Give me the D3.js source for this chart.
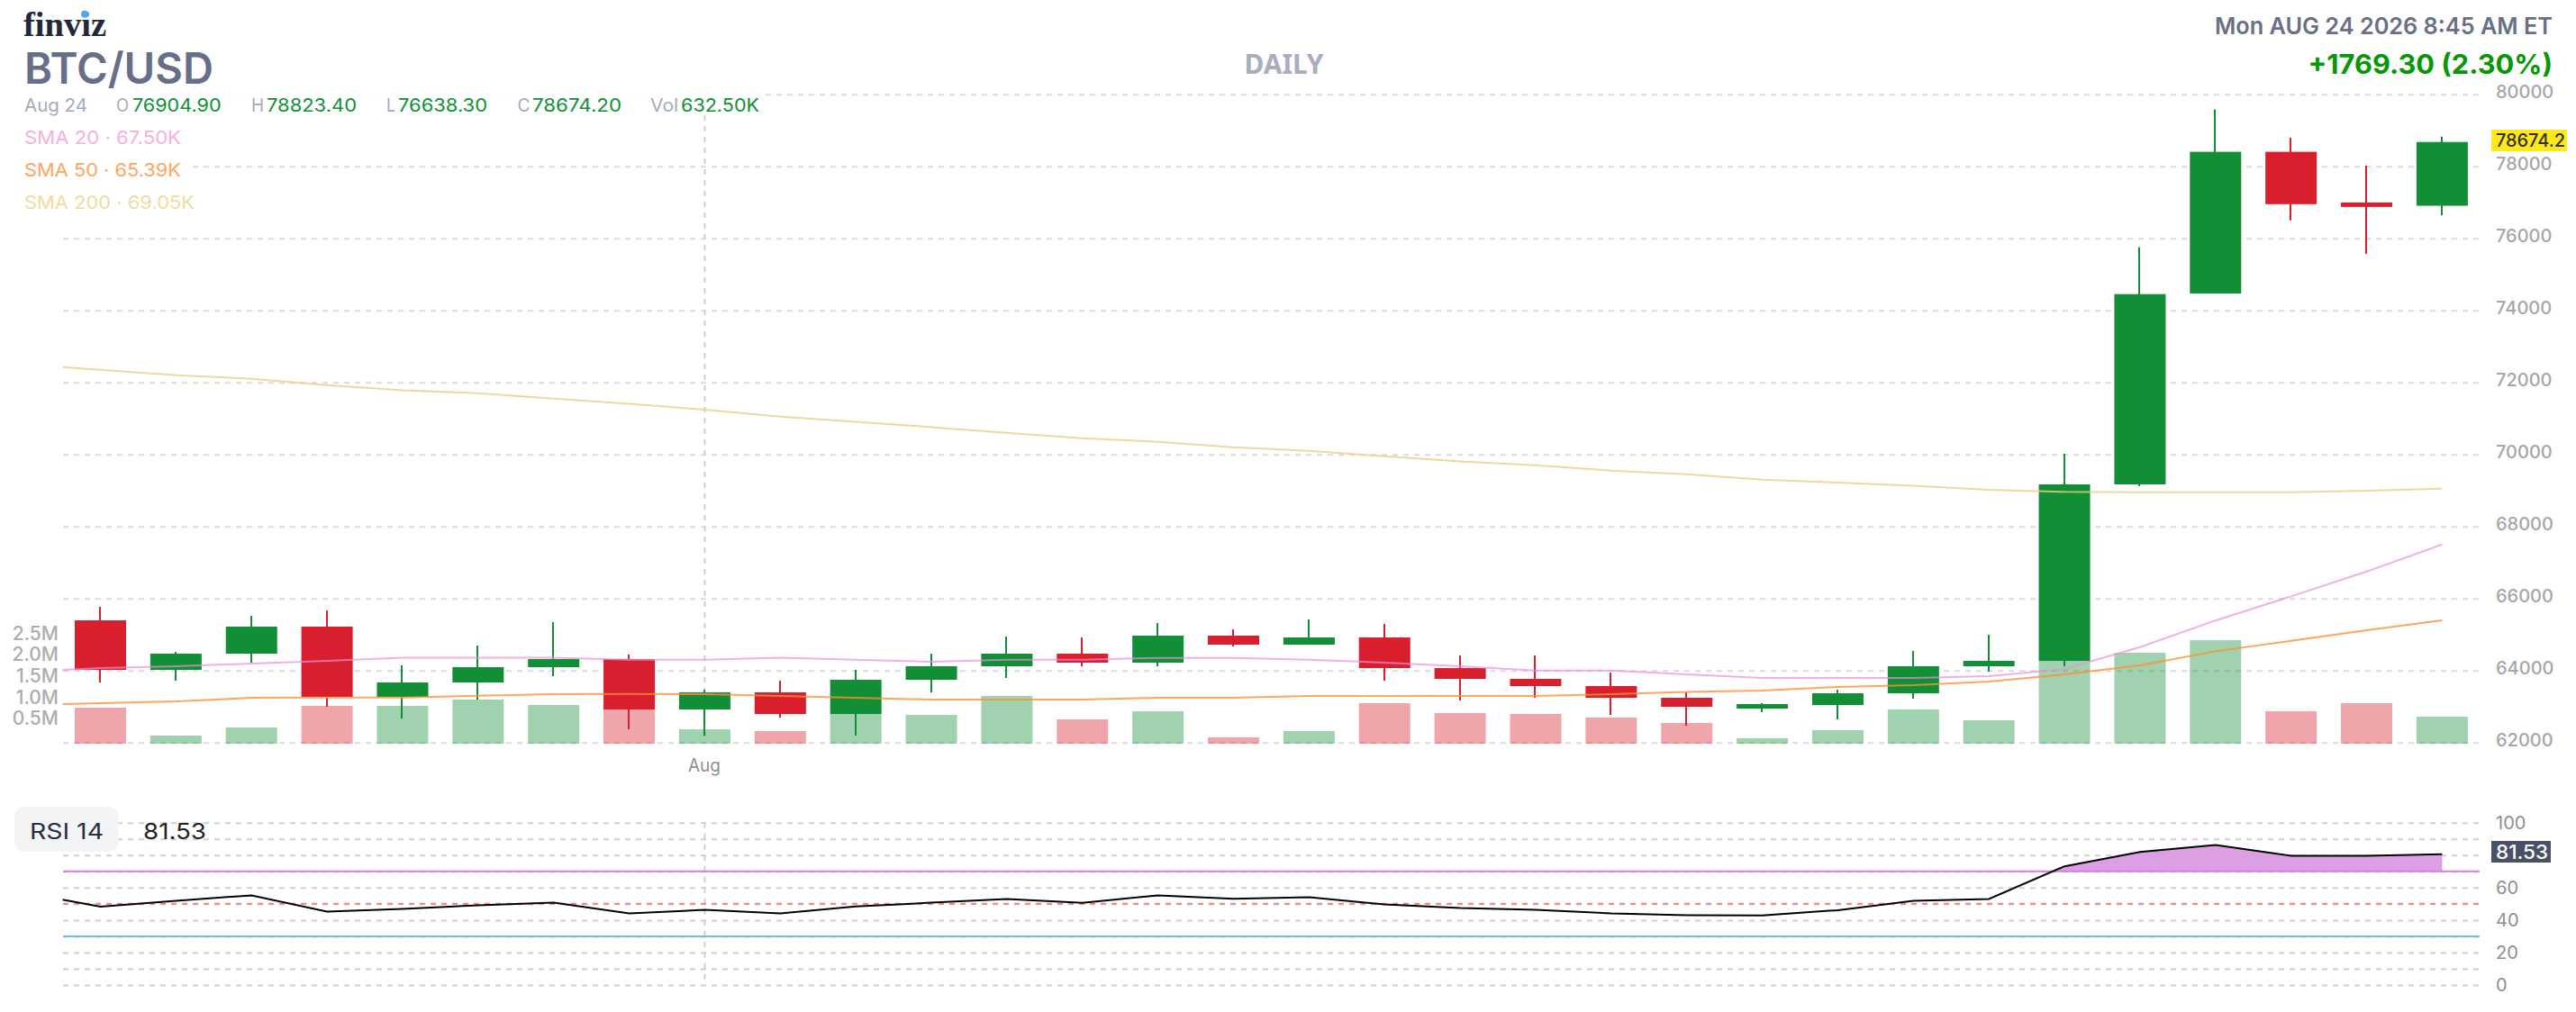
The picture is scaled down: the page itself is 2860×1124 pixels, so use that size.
<!DOCTYPE html>
<html><head><meta charset="utf-8">
<style>html,body{margin:0;padding:0;background:#fff}svg{display:block}text{font-family:Inter,"Noto Sans",sans-serif}</style>
<script src="https://cdn.jsdelivr.net/npm/d3@7/dist/d3.min.js"></script>
</head><body><svg id="c" width="2860" height="1124"></svg>
<script>
// ---- data ----
const opens =[65392,64017,64467,65217,63267,63667,64092,64317,62917,63392,62792,63742,64117,64467,64217,64967,64717,64917,64067,63767,63567,63242,62942,63042,63367,64117,64267,69168,74469,78402,76995,76904.9];
const closes=[64017,64467,65217,63267,63667,64092,64317,62917,63392,62792,63742,64117,64467,64217,64967,64717,64917,64067,63767,63567,63242,62992,63067,63367,64117,64267,69168,74450,78402,76948,76871,78674.2];
const highs =[65767,64517,65517,65667,64142,64692,65342,64442,63467,63717,64017,64467,64942,64917,65317,65142,65417,65292,64417,64417,63942,63392,63092,63467,64542,64992,70020,75751,79579,78794,78019,78823.4];
const lows  =[63667,63717,64217,62992,62667,63192,63842,62367,62192,62692,62192,63392,63792,64117,64117,64667,64717,63717,63167,63242,62767,62467,62842,62642,63217,63967,64117,69120,74469,76498,75570,76638.3];
const volumes=[0.844,0.19,0.38,0.886,0.886,1.034,0.907,0.84,0.337,0.295,0.696,0.675,1.118,0.569,0.759,0.148,0.295,0.949,0.717,0.696,0.612,0.485,0.127,0.316,0.80,0.548,1.94,2.13,2.425,0.759,0.949,0.6325];
const sma20 =[64067,64117,64192,64267,64358,64358,64358,64300,64300,64358,64300,64242,64300,64300,64350,64350,64300,64217,64117,64000,64000,63892,63792,63792,63792,63842,64042,64650,65388,66058,66747,67500];
const sma50 =[63092,63142,63242,63250,63250,63300,63342,63350,63342,63292,63242,63192,63192,63192,63242,63242,63292,63292,63292,63292,63342,63408,63442,63542,63592,63692,63892,64142,64533,64825,65117,65390];
const sma200=[72350,72200,72100,71925,71783,71700,71550,71408,71242,71050,70908,70758,70600,70450,70350,70200,70100,69950,69808,69700,69550,69450,69300,69217,69133,69020,68960,68948,68948,68948,68990,69050];
const smaEdge=[64017,63067,72425]; // values at the left clip edge, half a bar before the first candle
const rsiValues=[48.3,51.9,55.2,45.2,46.9,49.1,50.7,44.1,46.3,44.1,48.4,50.7,53,50.6,55.2,53.1,54.1,49.6,47.4,46.3,44.1,43,42.8,46.1,51.9,53,73.1,81.9,86.3,79.6,79.6,80.6];
const rsiEdge=52.6;
const priceTicks=[62000,64000,66000,68000,70000,72000,74000,76000,78000,80000];
const volTicks=[0.5,1,1.5,2,2.5];
const rsiGrid=[0,10,20,30,40,50,60,70,80,90,100];
const rsiLabels=[0,20,40,60,100];
const lastPrice=78674.2, lastRsi=81.53;

// ---- scales ----
const svg=d3.select('#c');
const X0=70,X1=2753;
const x=d3.scaleLinear().domain([0,31]).range([111.5,2711.4]);
const y=d3.scaleLinear().domain([62000,80000]).range([824.7,104.7]);
const v=d3.scaleLinear().domain([0,2.5]).range([826,707.5]);
const r=d3.scaleLinear().domain([0,100]).range([1094,913.7]);
const GREEN='#118e36',RED='#d91f2d',BODY=57;

function txt(px,py,s,o={}){
  const t=svg.append('text').attr('x',px).attr('y',py).text(s)
    .attr('font-size',o.size||20).attr('fill',o.fill||'#888').attr('font-weight',o.weight||400);
  if(o.family)t.style('font-family',o.family);
  if(o.anchor)t.attr('text-anchor',o.anchor);
  if(o.width)t.attr('textLength',o.width).attr('lengthAdjust','spacingAndGlyphs');
  return t;
}

// ---- grids + axis labels ----
const gp=svg.append('g').attr('transform',`translate(${X0},0)`)
  .call(d3.axisRight(y).tickValues(priceTicks).tickSize(X1-X0).tickPadding(18).tickFormat(d3.format('d')));
gp.select('.domain').remove();
gp.selectAll('line').attr('stroke','#dcdcdc').attr('stroke-width',2).attr('stroke-dasharray','6 6');
gp.selectAll('text').attr('dy',4).attr('font-size',20).attr('fill','#a6a6a6').attr('font-weight',500).style('font-family','Inter');

const gr=svg.append('g').attr('transform',`translate(${X0},0)`)
  .call(d3.axisRight(r).tickValues(rsiGrid).tickSize(X1-X0).tickPadding(18).tickFormat(d=>rsiLabels.includes(d)?d:''));
gr.select('.domain').remove();
gr.selectAll('line').attr('stroke','#cfcfcf').attr('stroke-width',2).attr('stroke-dasharray','6 6');
gr.selectAll('text').attr('dy',6.5).attr('font-size',20).attr('fill','#8f8f8f').style('font-family','Inter');

// crosshair at the Aug candle
svg.append('line').attr('x1',x(8)).attr('x2',x(8)).attr('y1',104).attr('y2',826)
  .attr('stroke','#cfcfcf').attr('stroke-width',2).attr('stroke-dasharray','6 6');
svg.append('line').attr('x1',x(8)).attr('x2',x(8)).attr('y1',r(100)).attr('y2',r(3))
  .attr('stroke','#cfcfcf').attr('stroke-width',2).attr('stroke-dasharray','6 6');

// ---- volume ----
svg.append('g').selectAll('rect').data(volumes).join('rect')
  .attr('x',(d,i)=>x(i)-BODY/2).attr('width',BODY)
  .attr('y',d=>v(d)).attr('height',d=>v(0)-v(d))
  .attr('fill',(d,i)=>closes[i]>=opens[i]?GREEN:RED).attr('opacity',0.4);
const gv=svg.append('g').attr('transform','translate(65,0)')
  .call(d3.axisLeft(v).tickValues(volTicks).tickSize(0).tickPadding(0).tickFormat(d=>d.toFixed(1)+'M'));
gv.select('.domain').remove();
gv.selectAll('text').attr('dy',2.5).attr('font-size',21).attr('fill','#adadad').attr('font-weight',500).style('font-family','Inter');

// ---- candles ----
const cg=svg.append('g');
opens.forEach((o,i)=>{
  const col=closes[i]>=o?GREEN:RED;
  cg.append('rect').attr('x',Math.floor(x(i))-1).attr('width',2)
    .attr('y',y(highs[i])).attr('height',y(lows[i])-y(highs[i])).attr('fill',col);
  const t=y(Math.max(o,closes[i])),b=y(Math.min(o,closes[i]));
  cg.append('rect').attr('x',x(i)-BODY/2).attr('width',BODY)
    .attr('y',t).attr('height',Math.max(b-t,1)).attr('fill',col);
});

// ---- moving averages ----
const ln=d3.line().x(d=>x(d[0])).y(d=>y(d[1]));
[[sma200,smaEdge[2],'#e8cf85',0.8],[sma50,smaEdge[1],'#ff8f33',0.8],[sma20,smaEdge[0],'#ea8fdc',0.7]].forEach(([s,e,c,op])=>{
  svg.append('path').attr('d',ln([[-0.5,e],...s.map((d,i)=>[i,d])]))
    .attr('fill','none').attr('stroke',c).attr('stroke-width',2).attr('opacity',op);
});

// ---- last price tag ----
svg.append('rect').attr('x',2766).attr('width',84).attr('y',y(lastPrice)-13.7).attr('height',24).attr('fill','#ffe81a');
txt(2771,y(lastPrice)+5.6,d3.format('.1f')(lastPrice),{size:20,fill:'#333',weight:500,width:77});

// ---- RSI pane ----
const rsiPts=[[-0.5,rsiEdge],...rsiValues.map((d,i)=>[i,d])];
svg.append('clipPath').attr('id','ob').append('rect').attr('x',X0).attr('width',X1-X0).attr('y',r(100)).attr('height',r(70)-r(100));
svg.append('path').attr('clip-path','url(#ob)')
  .attr('d',d3.area().x(d=>x(d[0])).y0(r(70)).y1(d=>r(d[1]))(rsiPts)).attr('fill','#dc9fe4');
[[70,'#cf82dd',null],[30,'#6bbfea',null],[50,'#fb8080','6 6']].forEach(([l,c,da])=>{
  const e=svg.append('line').attr('x1',X0).attr('x2',X1).attr('y1',r(l)).attr('y2',r(l)).attr('stroke',c).attr('stroke-width',2);
  if(da)e.attr('stroke-dasharray',da);
});
svg.append('path').attr('d',d3.line().x(d=>x(d[0])).y(d=>r(d[1]))(rsiPts)).attr('fill','none').attr('stroke','#000').attr('stroke-width',2);
svg.append('rect').attr('x',2766).attr('width',66).attr('y',r(lastRsi)-13).attr('height',24).attr('fill','#4a5068');
txt(2771,r(lastRsi)+6.5,lastRsi,{size:21,fill:'#fff',weight:500,width:58});
svg.append('rect').attr('x',16).attr('width',115.5).attr('y',896).attr('height',50).attr('rx',10).attr('fill','#f3f4f6');
txt(33,931.7,'RSI 14',{size:24,fill:'#2a2f3f',width:82});
txt(159,931.7,lastRsi,{size:24,fill:'#222',width:70});

txt(782,856.7,'Aug',{size:20,fill:'#8f8f8f',anchor:'middle',width:36});

// ---- legend backings ----
svg.append('rect').attr('x',60).attr('y',99).attr('width',788).attr('height',29).attr('fill','#fff').attr('opacity',0.92);
svg.append('rect').attr('x',60).attr('y',171).attr('width',152).attr('height',36).attr('fill','#fff');

// ---- header ----
txt(26,40,'finviz',{family:'"Liberation Serif"',size:38,fill:'#232838',weight:700,width:92});
svg.append('circle').attr('cx',94).attr('cy',15.7).attr('r',4).attr('fill','#4ea7ff');
txt(27,93.3,'BTC/USD',{size:48,fill:'#666e88',weight:600,width:210});
txt(1425.5,82.3,'DAILY',{family:'"Noto Sans"',size:30,fill:'#a9aebf',weight:700,anchor:'middle',width:88});
txt(2459,37.7,'Mon AUG 24 2026 8:45 AM ET',{size:26,fill:'#697086',weight:600,width:375});
txt(2562.5,82.3,'+1769.30 (2.30%)',{size:30,fill:'#069806',weight:700,width:271.5});

const G2='#a5a9bd',G3='#0f8f37';
txt(27,124,'Aug 24',{fill:G2,width:70});
txt(129,124,'O',{fill:G2,width:14});txt(147,124,'76904.90',{fill:G3,width:98.5});
txt(279,124,'H',{fill:G2,width:14});txt(296,124,'78823.40',{fill:G3,width:100});
txt(429,124,'L',{fill:G2,width:10});txt(442,124,'76638.30',{fill:G3,width:99});
txt(574.5,124,'C',{fill:G2,width:14});txt(591,124,'78674.20',{fill:G3,width:99});
txt(722,124,'Vol',{fill:G2,width:31});txt(756,124,'632.50K',{fill:G3,width:87});
txt(27,160.3,'SMA 20 · 67.50K',{fill:'#f5b0e0',width:174});
txt(27,196.3,'SMA 50 · 65.39K',{fill:'#ffa55f',width:174});
txt(27,232.3,'SMA 200 · 69.05K',{fill:'#f0dca0',width:189});
</script></body></html>
